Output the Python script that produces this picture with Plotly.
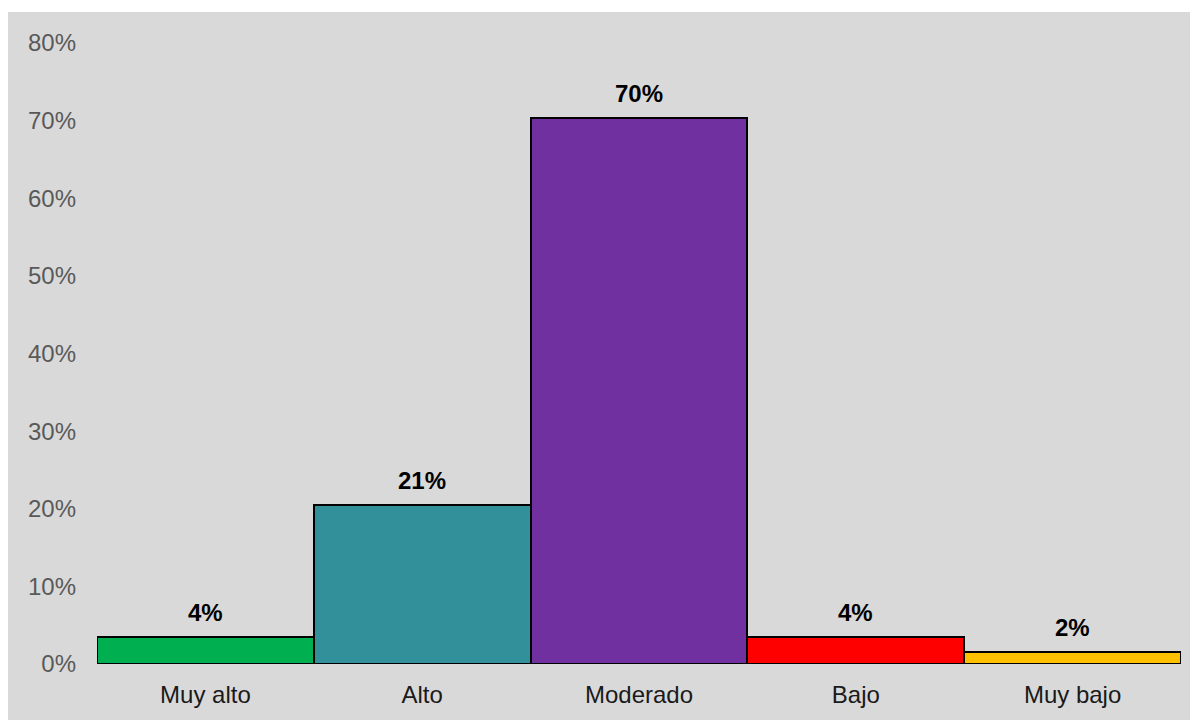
import plotly.graph_objects as go

categories = ["Muy alto", "Alto", "Moderado", "Bajo", "Muy bajo"]
values = [0.035, 0.205, 0.703, 0.035, 0.015]
labels = ["4%", "21%", "70%", "4%", "2%"]
colors = ["#00b050", "#31909a", "#7030a0", "#ff0000", "#ffc000"]
tick_vals = [0, 0.1, 0.2, 0.3, 0.4, 0.5, 0.6, 0.7, 0.8]

W, H = 1190, 712
ml, mr, mt, mb = 89, 17, 35, 56
pw, ph = W - ml - mr, H - mt - mb

fig = go.Figure()
fig.add_trace(go.Bar(
    x=categories, y=values,
    marker=dict(color=colors, line=dict(color="#000000", width=2)),
    hoverinfo="skip",
))

for c, v, t in zip(categories, values, labels):
    fig.add_annotation(x=c, y=v, text="<b>%s</b>" % t, showarrow=False,
                       yanchor="bottom", yshift=9,
                       font=dict(family="Liberation Sans, Arial", size=24, color="#000000"))

bg = "#d9d9d9"
# thin white strip at top edge
fig.add_shape(type="rect", xref="paper", yref="paper",
              x0=-ml / pw - 0.01, x1=1 + mr / pw + 0.01,
              y0=1 + (mt - 4) / ph, y1=1 + mt / ph + 0.01,
              fillcolor="white", line=dict(width=0))

fig.update_layout(
    width=W, height=H,
    margin=dict(l=ml, r=mr, t=mt, b=mb, pad=0),
    paper_bgcolor=bg, plot_bgcolor=bg,
    bargap=0, showlegend=False,
    font=dict(family="Liberation Sans, Arial", size=24),
    xaxis=dict(showgrid=False, showline=False, zeroline=False,
               tickfont=dict(size=24, color="#1a1a1a"), ticks="",
               ticklabelstandoff=14),
    yaxis=dict(range=[0, 0.8], tickvals=tick_vals, tickformat=".0%",
               showgrid=False, showline=False, zeroline=False,
               tickfont=dict(size=24, color="#595959"), ticks="",
               ticklabelstandoff=20),
)

fig.write_html("out.html")
